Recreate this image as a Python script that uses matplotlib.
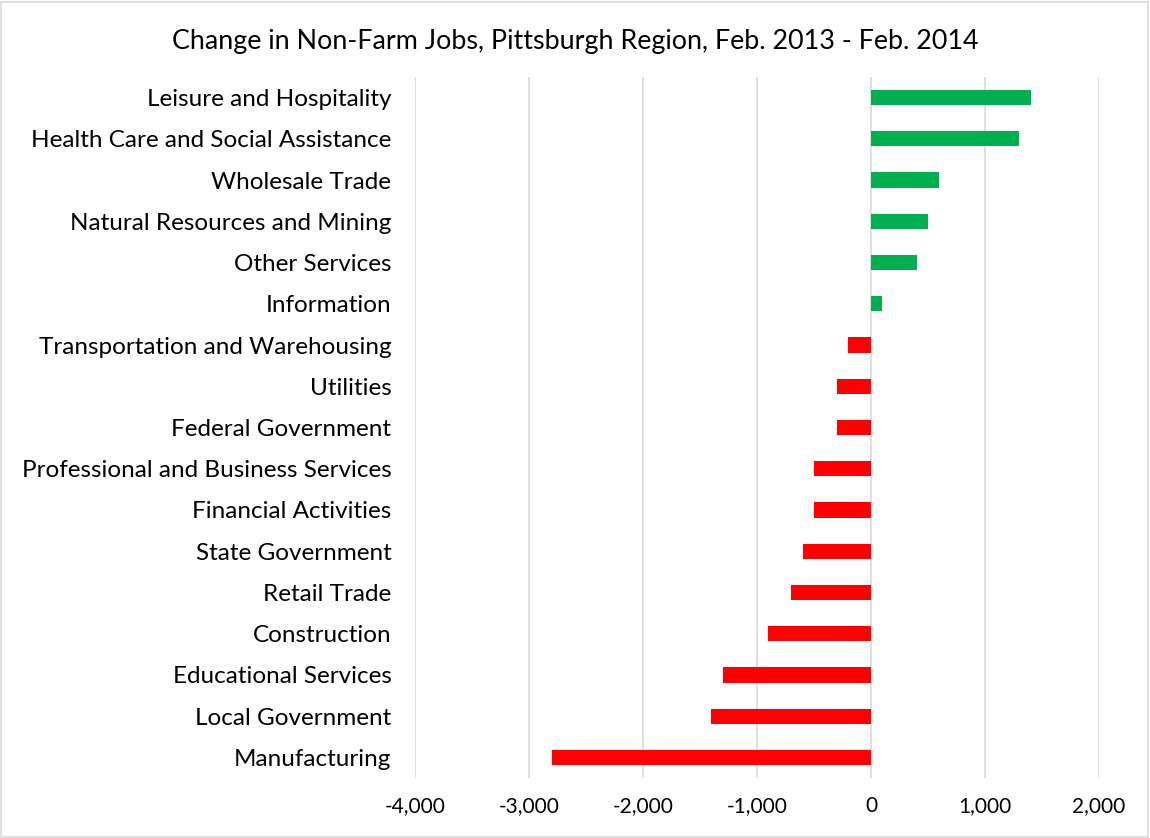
import matplotlib.pyplot as plt
from matplotlib.ticker import FuncFormatter
from matplotlib.patches import Rectangle

categories = [
    "Leisure and Hospitality",
    "Health Care and Social Assistance",
    "Wholesale Trade",
    "Natural Resources and Mining",
    "Other Services",
    "Information",
    "Transportation and Warehousing",
    "Utilities",
    "Federal Government",
    "Professional and Business Services",
    "Financial Activities",
    "State Government",
    "Retail Trade",
    "Construction",
    "Educational Services",
    "Local Government",
    "Manufacturing",
]
changes = [1400, 1300, 600, 500, 400, 100, -200, -300, -300, -500, -500,
           -600, -700, -900, -1300, -1400, -2800]
x_ticks = [-4000, -3000, -2000, -1000, 0, 1000, 2000]


def main():
    plt.rcParams["font.family"] = ["Lato", "DejaVu Sans"]
    fig = plt.figure(figsize=(11.5, 8.38), dpi=100)
    ax = fig.add_axes([415 / 1150, 1 - 778 / 838, (1099 - 415) / 1150, (778 - 77) / 838])

    colors = ["#00B050" if v > 0 else "#FF0000" for v in changes]
    ypos = list(range(len(categories)))
    ax.barh(ypos, changes, height=0.37, color=colors, zorder=3)
    ax.set_yticks(ypos)
    ax.set_yticklabels(categories, fontsize=17.5)
    ax.set_ylim(len(categories) - 0.5, -0.5)
    ax.set_xlim(-4000, 2000)
    ax.set_xticks(x_ticks)
    ax.xaxis.set_major_formatter(FuncFormatter(lambda v, p: f"{int(v):,}"))
    ax.tick_params(axis="x", labelsize=15, length=0, pad=13)
    ax.tick_params(axis="y", length=0, pad=17)
    ax.grid(axis="x", color="#D9D9D9", linewidth=1.2, zorder=0)
    for s in ax.spines.values():
        s.set_visible(False)

    fig.suptitle("Change in Non-Farm Jobs, Pittsburgh Region, Feb. 2013 - Feb. 2014",
                 fontsize=19.4, y=1 - 42 / 838, va="center")
    fig.patches.append(Rectangle((0.001, 0.001), 0.997, 0.997, transform=fig.transFigure,
                                 fill=False, edgecolor="#D9D9D9", linewidth=1.2))
    fig.savefig("out.png", dpi=100)


if __name__ == "__main__":
    main()
